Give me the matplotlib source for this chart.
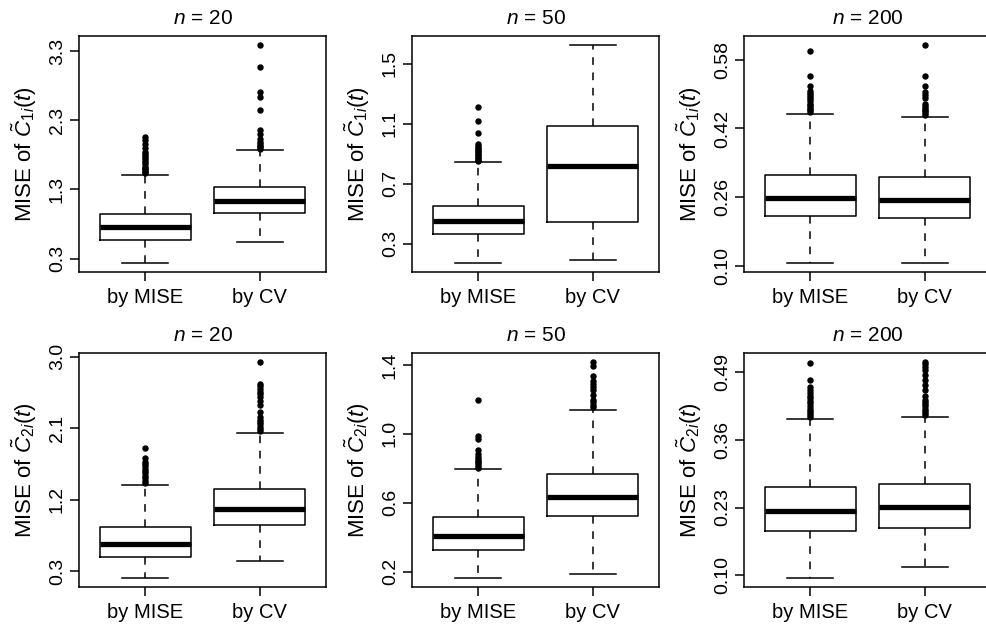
import matplotlib
matplotlib.use("Agg")
import matplotlib.pyplot as plt

plt.rcParams['font.family'] = ['Liberation Sans', 'DejaVu Sans']
plt.rcParams['mathtext.fontset'] = 'custom'
plt.rcParams['mathtext.rm'] = 'Liberation Sans'
plt.rcParams['mathtext.it'] = 'Liberation Sans:italic'

# box stats: [lower whisker, Q1, median, Q3, upper whisker]
methods = ['by MISE', 'by CV']
sizes = [20, 50, 200]

# C1, n = 20
c1_n20_mise = [0.232, 0.561, 0.754, 0.946, 1.507]
c1_n20_mise_out = [1.53, 1.55, 1.57, 1.59, 1.61, 1.63, 1.66, 1.69, 1.72, 1.75,
                   1.78, 1.81, 1.84, 1.90, 1.96, 2.01, 2.06]
c1_n20_cv = [0.54, 0.961, 1.13, 1.338, 1.87]
c1_n20_cv_out = [1.89, 1.91, 1.93, 1.96, 1.99, 2.03, 2.10, 2.16, 2.45, 2.63,
                 2.71, 3.07, 3.39]
c1_n20_ticks = [0.3, 1.3, 2.3, 3.3]

# C1, n = 50
c1_n50_mise = [0.171, 0.363, 0.452, 0.554, 0.845]
c1_n50_mise_out = [0.85, 0.86, 0.87, 0.88, 0.89, 0.90, 0.91, 0.92, 0.93, 0.94,
                   0.95, 0.965, 1.036, 1.116, 1.21]
c1_n50_cv = [0.196, 0.445, 0.822, 1.085, 1.627]
c1_n50_cv_out = []
c1_n50_ticks = [0.3, 0.7, 1.1, 1.5]

# C1, n = 200
c1_n200_mise = [0.106, 0.216, 0.257, 0.312, 0.454]
c1_n200_mise_out = [0.458, 0.462, 0.466, 0.470, 0.474, 0.478, 0.483, 0.488,
                    0.493, 0.498, 0.503, 0.508, 0.52, 0.542, 0.60]
c1_n200_cv = [0.106, 0.211, 0.253, 0.306, 0.446]
c1_n200_cv_out = [0.452, 0.456, 0.460, 0.464, 0.468, 0.472, 0.476, 0.490,
                  0.498, 0.504, 0.519, 0.542, 0.615]
c1_n200_ticks = [0.10, 0.26, 0.42, 0.58]

# C2, n = 20
c2_n20_mise = [0.208, 0.477, 0.646, 0.851, 1.385]
c2_n20_mise_out = [1.41, 1.44, 1.47, 1.50, 1.53, 1.56, 1.59, 1.62, 1.65, 1.68,
                   1.72, 1.85]
c2_n20_cv = [0.426, 0.877, 1.087, 1.34, 2.037]
c2_n20_cv_out = [2.06, 2.09, 2.12, 2.15, 2.18, 2.21, 2.24, 2.31, 2.39, 2.45,
                 2.50, 2.53, 2.56, 2.60, 2.63, 2.66, 2.94]
c2_n20_ticks = [0.3, 1.2, 2.1, 3.0]

# C2, n = 50
c2_n50_mise = [0.162, 0.326, 0.407, 0.515, 0.798]
c2_n50_mise_out = [0.805, 0.815, 0.825, 0.835, 0.845, 0.855, 0.866, 0.885,
                   0.904, 0.972, 0.985, 1.194]
c2_n50_cv = [0.187, 0.522, 0.634, 0.769, 1.14]
c2_n50_cv_out = [1.155, 1.17, 1.185, 1.198, 1.225, 1.252, 1.27, 1.29, 1.305,
                 1.338, 1.396, 1.419]
c2_n50_ticks = [0.2, 0.6, 1.0, 1.4]

# C2, n = 200
c2_n200_mise = [0.094, 0.184, 0.223, 0.269, 0.400]
c2_n200_mise_out = [0.404, 0.408, 0.412, 0.416, 0.420, 0.425, 0.430, 0.435,
                    0.440, 0.445, 0.450, 0.455, 0.461, 0.474, 0.508]
c2_n200_cv = [0.116, 0.191, 0.231, 0.276, 0.404]
c2_n200_cv_out = [0.408, 0.412, 0.416, 0.420, 0.424, 0.428, 0.432, 0.436,
                  0.445, 0.455, 0.465, 0.474, 0.485, 0.494, 0.500, 0.506, 0.51]
c2_n200_ticks = [0.10, 0.23, 0.36, 0.49]

panels = [
    [(c1_n20_mise, c1_n20_mise_out, c1_n20_cv, c1_n20_cv_out, c1_n20_ticks, '%.1f'),
     (c1_n50_mise, c1_n50_mise_out, c1_n50_cv, c1_n50_cv_out, c1_n50_ticks, '%.1f'),
     (c1_n200_mise, c1_n200_mise_out, c1_n200_cv, c1_n200_cv_out, c1_n200_ticks, '%.2f')],
    [(c2_n20_mise, c2_n20_mise_out, c2_n20_cv, c2_n20_cv_out, c2_n20_ticks, '%.1f'),
     (c2_n50_mise, c2_n50_mise_out, c2_n50_cv, c2_n50_cv_out, c2_n50_ticks, '%.1f'),
     (c2_n200_mise, c2_n200_mise_out, c2_n200_cv, c2_n200_cv_out, c2_n200_ticks, '%.2f')],
]
ylabels = [r'MISE of $\tilde{C}_{1i}(t)$', r'MISE of $\tilde{C}_{2i}(t)$']


def make_stats(s, out, name):
    return dict(whislo=s[0], q1=s[1], med=s[2], q3=s[3], whishi=s[4],
                fliers=out, label=name)


W, H = 986, 625
fig = plt.figure(figsize=(W / 100, H / 100), dpi=100)

col_left = [79, 412, 744]
row_top = [36, 353]
row_h = [236, 234]
ax_w = 247
lw = 1.1

for r in range(2):
    for c in range(3):
        mise, mise_out, cv, cv_out, ticks, fmt = panels[r][c]
        ax = fig.add_axes([col_left[c] / W, 1 - (row_top[r] + row_h[r]) / H,
                           ax_w / W, row_h[r] / H])
        stats = [make_stats(mise, mise_out, methods[0]),
                 make_stats(cv, cv_out, methods[1])]
        ax.bxp(stats, positions=[1, 2], widths=0.8, capwidths=0.4,
               patch_artist=False,
               boxprops=dict(color='black', linewidth=lw),
               whiskerprops=dict(color='black', linewidth=lw, linestyle=(0, (5, 5))),
               capprops=dict(color='black', linewidth=lw),
               medianprops=dict(color='black', linewidth=3.8, solid_capstyle='butt'),
               flierprops=dict(marker='o', markersize=3.6, markerfacecolor='black',
                               markeredgecolor='black', linestyle='none'))

        allv = mise + mise_out + cv + cv_out
        lo, hi = min(allv), max(allv)
        span = hi - lo
        ax.set_ylim(lo - 0.04 * span, hi + 0.04 * span)
        ax.set_xlim(0.42, 2.58)

        ax.set_yticks(ticks)
        ax.set_yticklabels([fmt % t for t in ticks], rotation=90, va='center')
        ax.set_xticks([1, 2])
        ax.set_xticklabels(methods, fontsize=14.5)
        ax.tick_params(axis='both', direction='out', length=6.5, width=lw,
                       color='black')
        ax.tick_params(axis='y', pad=3, labelsize=14)
        ax.tick_params(axis='x', pad=5)
        for sp in ax.spines.values():
            sp.set_linewidth(lw)

        ax.text(0.5, 1 + 12 / row_h[r], r'$n$ = %d' % sizes[c],
                transform=ax.transAxes, ha='center', va='baseline', fontsize=15)
        ax.text(-47 / ax_w, 0.5, ylabels[r], transform=ax.transAxes,
                rotation=90, rotation_mode='anchor', ha='center', va='baseline',
                fontsize=16)

fig.savefig('out.png', dpi=100)
